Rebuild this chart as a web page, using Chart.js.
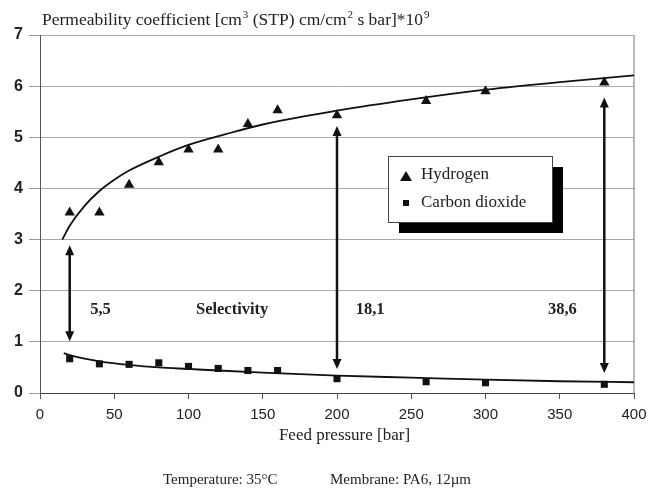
<!DOCTYPE html>
<html>
<head>
<meta charset="utf-8">
<script src="https://cdn.jsdelivr.net/npm/chart.js@4.4.1/dist/chart.umd.min.js"></script>
<style>
  body { margin: 0; background: #fff; }
  #wrap { width: 649px; height: 489px; }
</style>
</head>
<body>
<div id="wrap"><canvas id="chart" width="649" height="489"></canvas></div>
<script>
// measured points
const pressures = [20, 40, 60, 80, 100, 120, 140, 160, 200, 260, 300, 380];
const hydrogen = [3.53, 3.53, 4.07, 4.51, 4.76, 4.76, 5.26, 5.53, 5.43, 5.71, 5.90, 6.07];
const carbonDioxide = [0.67, 0.57, 0.56, 0.59, 0.52, 0.48, 0.44, 0.44, 0.28, 0.22, 0.20, 0.17];

// fitted trend lines
const fitX = [15, 20, 30, 40, 50, 60, 80, 100, 125, 150, 200, 250, 300, 350, 400];
const fitHydrogen = [3.0, 3.27, 3.66, 3.95, 4.17, 4.35, 4.62, 4.85, 5.06, 5.25, 5.52, 5.74, 5.93, 6.08, 6.21];
const fitCO2X = [16, 20, 30, 40, 60, 80, 100, 120, 150, 200, 250, 300, 350, 400];
const fitCO2 = [0.78, 0.74, 0.67, 0.62, 0.55, 0.50, 0.47, 0.44, 0.40, 0.34, 0.30, 0.26, 0.23, 0.21];

// selectivity arrows and labels
const arrowX = [20, 200, 380];
const arrowTop = [2.89, 5.22, 5.78];
const arrowBottom = [1.01, 0.47, 0.39];
const labelText = ['5,5', 'Selectivity', '18,1', '38,6'];
const labelX = [40.7, 129.4, 222.3, 351.8];
const labelY = [1.62, 1.62, 1.62, 1.62];

const xTicks = [0, 50, 100, 150, 200, 250, 300, 350, 400];
const yTicks = [0, 1, 2, 3, 4, 5, 6, 7];

const SERIF = '"Liberation Serif", "Times New Roman", serif';
const SANS = '"Liberation Sans", Arial, sans-serif';

function toXY(xs, ys) {
    return xs.map((x, i) => ({ x: x, y: ys[i] }));
}

function drawRich(ctx, parts, x, y, size) {
    // parts: [text, isSuperscript]
    let cx = x;
    parts.forEach(p => {
        if (p[1]) {
            ctx.font = Math.round(size * 0.6) + 'px ' + SERIF;
            ctx.fillText(p[0], cx + 1, y - size * 0.38);
            cx += 1;
        } else {
            ctx.font = size + 'px ' + SERIF;
            ctx.fillText(p[0], cx, y);
        }
        cx += ctx.measureText(p[0]).width;
    });
}

function drawArrow(ctx, x, y1, y2) {
    const head = 10, half = 4.5;
    ctx.save();
    ctx.strokeStyle = '#111';
    ctx.fillStyle = '#111';
    ctx.lineWidth = 2.5;
    ctx.beginPath();
    ctx.moveTo(x, y1 + head - 1);
    ctx.lineTo(x, y2 - head + 1);
    ctx.stroke();
    ctx.beginPath();
    ctx.moveTo(x, y1);
    ctx.lineTo(x - half, y1 + head);
    ctx.lineTo(x + half, y1 + head);
    ctx.closePath();
    ctx.fill();
    ctx.beginPath();
    ctx.moveTo(x, y2);
    ctx.lineTo(x - half, y2 - head);
    ctx.lineTo(x + half, y2 - head);
    ctx.closePath();
    ctx.fill();
    ctx.restore();
}

const extras = {
    id: 'extras',
    beforeDatasetsDraw(chart) {
        const ctx = chart.ctx;
        const a = chart.chartArea;
        // right frame line
        ctx.save();
        ctx.strokeStyle = '#777';
        ctx.lineWidth = 1;
        ctx.beginPath();
        ctx.moveTo(a.right, a.top);
        ctx.lineTo(a.right, a.bottom);
        ctx.stroke();
        ctx.restore();
    },
    afterDatasetsDraw(chart) {
        const ctx = chart.ctx;
        const xs = chart.scales.x, ys = chart.scales.y;

        arrowX.forEach((v, i) => {
            drawArrow(ctx, xs.getPixelForValue(v), ys.getPixelForValue(arrowTop[i]), ys.getPixelForValue(arrowBottom[i]));
        });

        ctx.save();
        ctx.fillStyle = '#222';
        ctx.font = 'bold 16.5px ' + SERIF;
        ctx.textAlign = 'center';
        ctx.textBaseline = 'middle';
        labelText.forEach((t, i) => {
            ctx.fillText(t, xs.getPixelForValue(labelX[i]), ys.getPixelForValue(labelY[i]));
        });
        ctx.restore();

        // legend box with drop shadow
        ctx.save();
        ctx.fillStyle = '#000';
        ctx.fillRect(399, 167, 164, 66);
        ctx.fillStyle = '#fff';
        ctx.fillRect(388.5, 156.5, 164, 66);
        ctx.strokeStyle = '#444';
        ctx.lineWidth = 1;
        ctx.strokeRect(388.5, 156.5, 164, 66);
        ctx.fillStyle = '#111';
        ctx.beginPath();
        ctx.moveTo(406, 171);
        ctx.lineTo(412, 181);
        ctx.lineTo(400, 181);
        ctx.closePath();
        ctx.fill();
        ctx.fillRect(403, 200, 6, 6);
        ctx.fillStyle = '#222';
        ctx.font = '17px ' + SERIF;
        ctx.textAlign = 'left';
        ctx.textBaseline = 'alphabetic';
        ctx.fillText('Hydrogen', 421, 179);
        ctx.fillText('Carbon dioxide', 421, 207);
        ctx.restore();
    },
    afterDraw(chart) {
        const ctx = chart.ctx;
        ctx.save();
        ctx.fillStyle = '#222';
        ctx.textAlign = 'left';
        ctx.textBaseline = 'alphabetic';
        drawRich(ctx, [
            ['Permeability coefficient [cm', false], ['3', true],
            [' (STP) cm/cm', false], ['2', true],
            [' s bar]*10', false], ['9', true]
        ], 42, 25, 17.5);

        ctx.font = '17px ' + SERIF;
        ctx.textAlign = 'center';
        ctx.fillText('Feed pressure [bar]', 344.5, 440);

        ctx.font = '15px ' + SERIF;
        ctx.textAlign = 'left';
        ctx.fillText('Temperature: 35°C', 163, 484);
        ctx.fillText('Membrane: PA6, 12µm', 330, 484);
        ctx.restore();
    }
};

new Chart(document.getElementById('chart'), {
    type: 'scatter',
    data: {
        datasets: [
            {
                label: 'Hydrogen',
                data: toXY(pressures, hydrogen),
                pointStyle: 'triangle',
                pointRadius: 6,
                backgroundColor: '#111',
                borderColor: '#111',
                borderWidth: 0
            },
            {
                label: 'Carbon dioxide',
                data: toXY(pressures, carbonDioxide),
                pointStyle: 'rect',
                pointRadius: 5,
                backgroundColor: '#111',
                borderColor: '#111',
                borderWidth: 0
            },
            {
                label: 'H2 fit',
                data: toXY(fitX, fitHydrogen),
                showLine: true,
                pointRadius: 0,
                borderColor: '#111',
                borderWidth: 1.8,
                cubicInterpolationMode: 'monotone'
            },
            {
                label: 'CO2 fit',
                data: toXY(fitCO2X, fitCO2),
                showLine: true,
                pointRadius: 0,
                borderColor: '#111',
                borderWidth: 1.8,
                cubicInterpolationMode: 'monotone'
            }
        ]
    },
    options: {
        responsive: false,
        animation: false,
        layout: { padding: { top: 35, right: 15, bottom: 66, left: 0 } },
        plugins: {
            legend: { display: false },
            tooltip: { enabled: false }
        },
        scales: {
            x: {
                type: 'linear',
                min: 0,
                max: 400,
                afterBuildTicks: s => { s.ticks = xTicks.map(v => ({ value: v })); },
                afterFit: s => { s.height = 30; s.paddingRight = 0; s.paddingLeft = 0; },
                ticks: { color: '#222', font: { family: SANS, size: 15 }, padding: 7, maxRotation: 0 },
                grid: { drawOnChartArea: false, drawTicks: true, tickLength: 6, tickColor: '#555' },
                border: { color: '#444', width: 1 }
            },
            y: {
                min: 0,
                max: 7,
                afterBuildTicks: s => { s.ticks = yTicks.map(v => ({ value: v })); },
                afterFit: s => { s.width = 40; s.paddingTop = 0; s.paddingBottom = 0; },
                ticks: { color: '#222', font: { family: SANS, size: 16, weight: 'bold' }, padding: 6 },
                grid: { color: '#aaa', tickLength: 11, tickColor: '#999' },
                border: { color: '#555', width: 1 }
            }
        }
    },
    plugins: [extras]
});
</script>
</body>
</html>
